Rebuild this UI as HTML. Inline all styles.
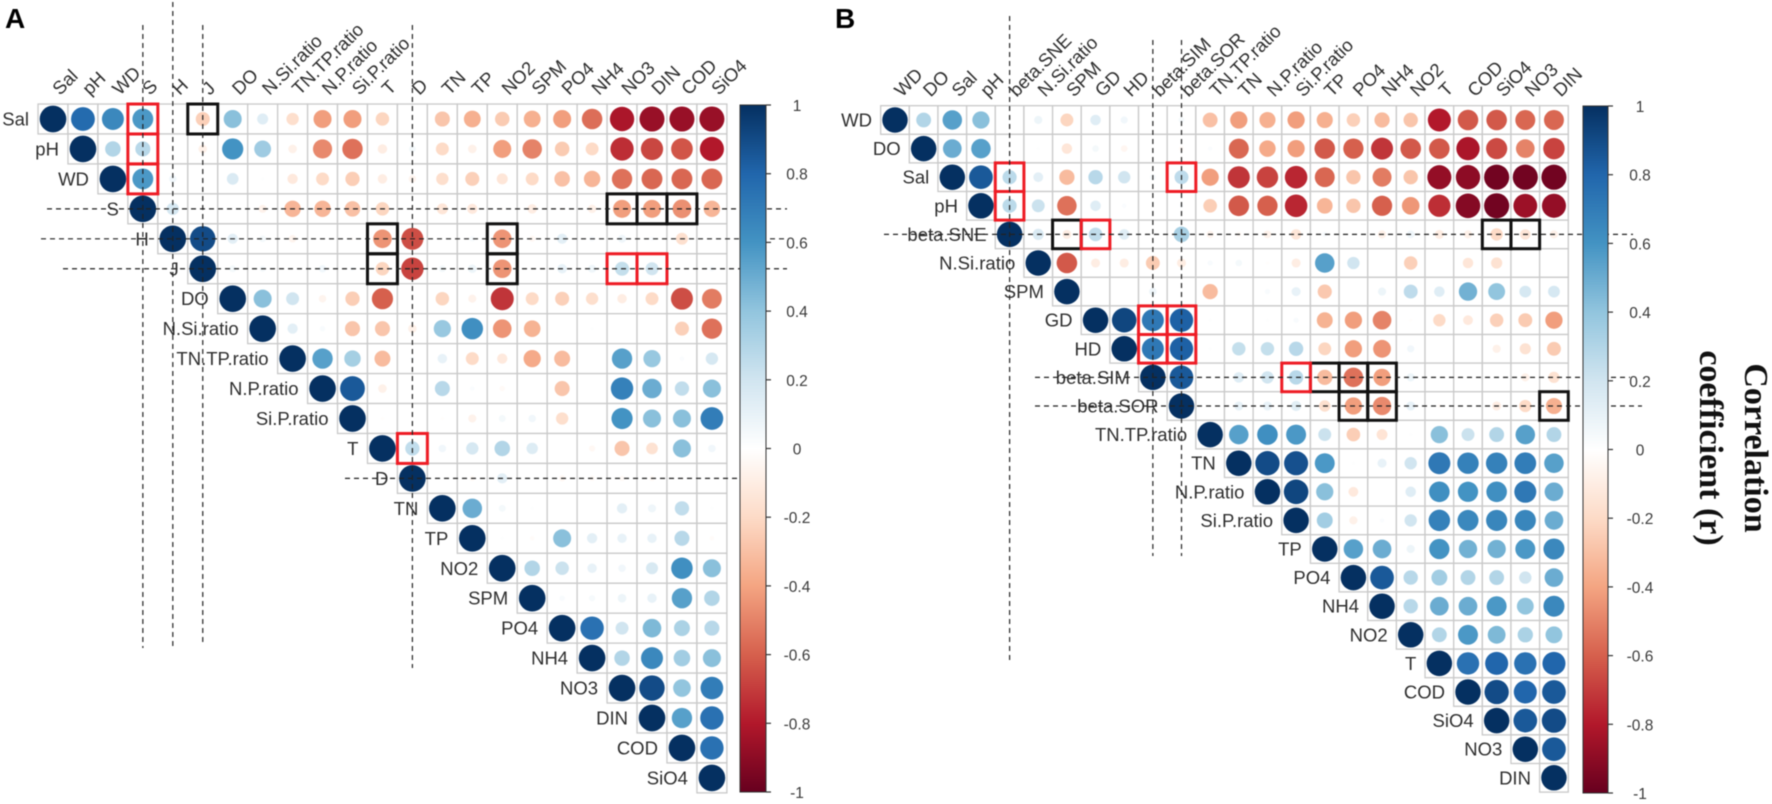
<!DOCTYPE html>
<html lang="en">
<head>
<meta charset="utf-8">
<title>Correlation matrices A and B</title>
<style>
html,body{margin:0;padding:0;background:#fff;}
#figure{display:block;width:1772px;height:804px;background:#fff;filter:blur(0.45px);}
text{font-family:"Liberation Sans",Arial,sans-serif;}
</style>
</head>
<body>
<svg id="figure" xmlns="http://www.w3.org/2000/svg" width="1772" height="804" viewBox="0 0 1772 804">
  <defs>
    <linearGradient id="rdbu-a" x1="0" y1="1" x2="0" y2="0"></linearGradient>
    <linearGradient id="rdbu-b" x1="0" y1="1" x2="0" y2="0"></linearGradient>
  </defs>
  <g id="panel-a"></g>
  <g id="panel-b"></g>
  <text x="5" y="28" font-size="28" font-weight="bold" fill="#000">A</text>
  <text x="835" y="28" font-size="28" font-weight="bold" fill="#000">B</text>
  <g font-weight="bold" fill="#111">
    <text transform="translate(1745,448) rotate(90)" text-anchor="middle" font-size="34" style="font-family:'Liberation Serif',serif">Correlation</text>
    <text transform="translate(1700,448) rotate(90)" text-anchor="middle" font-size="34" style="font-family:'Liberation Serif',serif">coefficient (r)</text>
  </g>
</svg>
<script>
const labelsA = ['Sal','pH','WD','S','H','J','DO','N.Si.ratio','TN.TP.ratio','N.P.ratio','Si.P.ratio','T','D','TN','TP','NO2','SPM','PO4','NH4','NO3','DIN','COD','SiO4'];
const valuesA = [
 [1,.78,.65,.58,0,-.24,.42,.14,-.18,-.42,-.42,-.22,0,-.28,-.36,-.26,-.36,-.42,-.56,-.82,-.87,-.87,-.87],
 [1,.3,.28,0,-.08,.6,.36,-.08,-.48,-.55,-.1,.05,-.2,-.08,-.42,-.5,-.26,-.2,-.74,-.67,-.63,-.8],
 [1,.58,.06,0,.16,.01,-.12,-.2,-.25,-.1,-.06,-.18,-.24,-.14,-.2,-.3,-.34,-.55,-.58,-.58,-.58],
 [1,.18,0,0,-.07,-.34,-.34,-.3,-.22,-.01,-.14,-.12,-.01,-.1,-.01,-.08,-.42,-.42,-.46,-.34],
 [1,.9,.12,.05,-.06,0,-.01,-.45,-.65,0,.03,-.45,-.04,.12,.03,.07,.02,-.17,0],
 [1,.05,.04,0,.06,.02,-.22,-.68,.05,.08,-.45,0,.1,.07,.24,.2,0,.03],
 [1,.42,.2,-.06,-.25,-.6,0,-.22,-.07,-.72,-.2,-.24,-.18,-.1,-.2,-.65,-.52],
 [1,.12,.03,-.28,-.28,-.08,.38,.62,-.45,-.35,0,.01,0,0,-.24,-.55],
 [1,.55,.34,-.32,.02,.1,-.2,-.12,-.38,-.32,0,.55,.38,.02,.18],
 [1,.85,-.08,0,.28,.02,-.03,0,-.28,0,.68,.5,.25,.42],
 [1,-.01,0,-.01,-.07,.05,.06,-.18,0,.6,.42,.42,.7],
 [1,.25,.06,.18,.3,.15,0,-.04,-.28,-.16,.42,.06],
 [1,0,-.03,.12,0,-.04,-.03,-.03,-.03,-.01,0],
 [1,.5,.05,.01,0,0,.12,.07,.25,.01],
 [1,.01,-.02,.42,.12,.1,.1,.28,-.02],
 [1,.3,.22,.1,.06,.17,.62,.42],
 [1,.03,.04,.08,.1,.55,.3],
 [1,.75,.2,.45,.32,.28],
 [1,.3,.65,.35,.42],
 [1,.9,.4,.7],
 [1,.55,.75],
 [1,.75],
 [1]
];
const redBoxesA = [['Sal','S'],['pH','S'],['WD','S'],['J','NO3'],['J','DIN'],['T','D']];
const blackBoxesA = [['Sal','J'],['S','NO3'],['S','DIN'],['S','COD'],['H','T'],['J','T'],['H','NO2'],['J','NO2']];
const guideVarsA = ['S','H','J','D'];

const labelsB = ['WD','DO','Sal','pH','beta.SNE','N.Si.ratio','SPM','GD','HD','beta.SIM','beta.SOR','TN.TP.ratio','TN','N.P.ratio','Si.P.ratio','TP','PO4','NH4','NO2','T','COD','SiO4','NO3','DIN'];
const valuesB = [
 [1,.3,.55,.42,.01,.08,-.22,.14,.06,.01,.04,-.3,-.42,-.36,-.42,-.36,-.24,-.32,-.28,-.8,-.62,-.62,-.58,-.58],
 [1,.5,.55,0,.01,-.14,.05,-.05,0,-.03,.02,-.58,-.38,-.42,-.62,-.6,-.72,-.62,-.62,-.82,-.66,-.5,-.68],
 [1,.85,.27,.12,-.32,.28,.2,.04,.26,-.42,-.72,-.68,-.76,-.58,-.28,-.52,-.28,-.88,-.9,-.97,-.97,-.97],
 [1,.27,.22,-.55,.14,.02,0,.02,-.25,-.62,-.6,-.76,-.34,-.28,-.6,-.44,-.74,-.92,-.97,-.86,-.88],
 [1,.16,-.1,.25,.14,0,.33,-.06,-.03,-.07,-.14,.03,0,-.08,.07,-.1,-.08,-.2,-.14,-.08],
 [1,-.62,-.1,-.1,-.26,-.1,.03,.05,-.01,-.1,.55,.2,0,-.24,0,-.14,-.16,0,0],
 [1,0,0,.07,0,-.32,0,.03,.1,-.27,0,.08,.26,.14,.48,.4,.18,.18],
 [1,.92,.72,.82,.01,0,.01,.03,-.35,-.42,-.5,-.01,-.2,-.12,-.24,-.26,-.42],
 [1,.72,.82,.01,.24,.24,.28,-.22,-.42,-.45,.06,0,0,-.08,-.16,-.26],
 [1,.85,0,.14,.2,.28,-.32,-.55,-.42,.08,0,0,0,-.08,-.16],
 [1,0,.1,.1,.13,-.17,-.42,-.48,.1,-.02,0,-.1,-.2,-.36],
 [1,.55,.62,.58,.22,-.25,-.15,.01,.42,.22,.3,.55,.3],
 [1,.9,.88,.58,.01,.1,.2,.72,.68,.68,.7,.55],
 [1,.92,.42,-.12,0,.14,.62,.6,.62,.72,.5],
 [1,.35,-.08,.02,.2,.68,.65,.66,.66,.5],
 [1,.55,.5,.08,.6,.48,.48,.58,.65],
 [1,.85,.28,.35,.3,.3,.2,.5],
 [1,.28,.5,.5,.58,.4,.65],
 [1,.3,.58,.45,.32,.4],
 [1,.75,.8,.75,.8],
 [1,.9,.8,.85],
 [1,.85,.9],
 [1,.85],
 [1]
];
const redBoxesB = [['Sal','beta.SNE'],['pH','beta.SNE'],['beta.SNE','GD'],['Sal','beta.SOR'],['GD','beta.SIM'],['GD','beta.SOR'],['HD','beta.SIM'],['HD','beta.SOR'],['beta.SIM','Si.P.ratio']];
const blackBoxesB = [['beta.SNE','SPM'],['beta.SNE','SiO4'],['beta.SNE','NO3'],['beta.SIM','TP'],['beta.SIM','PO4'],['beta.SIM','NH4'],['beta.SOR','PO4'],['beta.SOR','NH4'],['beta.SOR','DIN']];
const guideVarsB = ['beta.SNE','beta.SIM','beta.SOR'];

const legendTicks = [1,0.8,0.6,0.4,0.2,0,-0.2,-0.4,-0.6,-0.8,-1];
const paletteStops = [-1,-0.8,-0.6,-0.4,-0.2,0,0.2,0.4,0.6,0.8,1];
const paletteColors = ['#67001F','#B2182B','#D6604D','#F4A582','#FDDBC7','#FFFFFF','#D1E5F0','#92C5DE','#4393C3','#2166AC','#053061'];

const NS = 'http://www.w3.org/2000/svg';

function colorScale(v) {
  const c = Math.max(-1, Math.min(1, v));
  let i = 0;
  while (i < paletteStops.length - 2 && c > paletteStops[i + 1]) i++;
  const t = (c - paletteStops[i]) / (paletteStops[i + 1] - paletteStops[i]);
  const a = paletteColors[i], b = paletteColors[i + 1];
  const ch = function (s, k) { return parseInt(s.substr(1 + k * 2, 2), 16); };
  const mix = [0, 1, 2].map(function (k) { return Math.round(ch(a, k) + (ch(b, k) - ch(a, k)) * t); });
  return 'rgb(' + mix.join(',') + ')';
}

function make(parent, tag, attrs) {
  const el = document.createElementNS(NS, tag);
  for (const k in attrs) el.setAttribute(k, attrs[k]);
  parent.appendChild(el);
  return el;
}

function drawPanel(root, labels, values, redBoxes, blackBoxes, guides, geo) {
  const x = function (i) { return geo.x0 + i * geo.stepX; };
  const y = function (i) { return geo.y0 + i * geo.stepY; };
  const r = function (v) { return 0.445 * geo.stepX * Math.pow(Math.abs(v), 0.45); };
  const idx = function (n) { return labels.indexOf(n); };

  const gridLayer = make(root, 'g', {});
  
  
  const dotLayer = make(root, 'g', {});
  
  

  values.forEach(function (row, ri) {
    row.forEach(function (v, k) {
      const ci = ri + k;
      const cell = make(gridLayer, 'rect', {
        x: x(ci) - geo.stepX / 2, y: y(ri) - geo.stepY / 2,
        width: geo.stepX, height: geo.stepY,
        fill: '#fff', stroke: '#c9c9c9', 'stroke-width': 1.3
      });
      
      
      const dot = make(dotLayer, 'circle', {
        cx: x(ci), cy: y(ri), r: r(v), fill: colorScale(v)
      });
      
      
    });
  });

  const drawBoxes = function (list, color, name) {
    list.forEach(function (pair) {
      const box = make(root, 'rect', {
        x: x(idx(pair[1])) - geo.stepX / 2, y: y(idx(pair[0])) - geo.stepY / 2,
        width: geo.stepX, height: geo.stepY,
        fill: 'none', stroke: color, 'stroke-width': 3
      });
      
      
    });
  };
  drawBoxes(blackBoxes, '#111', 'black-highlight');
  drawBoxes(redBoxes, '#ee1c25', 'red-highlight');

  labels.forEach(function (name, i) {
    const rowLabel = make(root, 'text', {
      x: x(i) - geo.labelGap, y: y(i) + 6.5,
      'text-anchor': 'end', 'font-size': 18.5, fill: '#2e2e2e'
    });
    rowLabel.textContent = name;
    
    
    const px = x(i) + 7, py = geo.y0 - geo.stepY / 2 - 8;
    const colLabel = make(root, 'text', {
      x: px, y: py, transform: 'rotate(-45 ' + px + ' ' + py + ')',
      'font-size': 18.5, fill: '#2e2e2e'
    });
    colLabel.textContent = name;
    
    
  });

  guides.forEach(function (name, g) {
    const i = idx(name);
    const ext = geo.guideExtents[g];
    const v = make(root, 'line', {
      x1: x(i), x2: x(i), y1: ext[0], y2: ext[1],
      stroke: '#222', 'stroke-width': 1.2, 'stroke-dasharray': '5 4'
    });
    
    
    const h = make(root, 'line', {
      x1: ext[2], x2: ext[3], y1: y(i), y2: y(i),
      stroke: '#222', 'stroke-width': 1.2, 'stroke-dasharray': '5 4'
    });
    
    
  });

  /* colour bar */
  const grad = document.getElementById(geo.gradientId);
  paletteStops.forEach(function (s, i) {
    const st = document.createElementNS(NS, 'stop');
    st.setAttribute('offset', ((s + 1) / 2 * 100) + '%');
    st.setAttribute('stop-color', paletteColors[i]);
    grad.appendChild(st);
  });
  const bar = make(root, 'g', {});
  
  
  const barY = function (v) { return geo.barTop + (1 - v) / 2 * (geo.barBottom - geo.barTop); };
  make(bar, 'rect', {
    x: geo.barLeft, y: geo.barTop, width: geo.barRight - geo.barLeft,
    height: geo.barBottom - geo.barTop, fill: 'url(#' + geo.gradientId + ')',
    stroke: '#333', 'stroke-width': 1
  });
  legendTicks.forEach(function (t) {
    const tick = make(bar, 'line', {
      x1: geo.barRight, x2: geo.barRight + 5, y1: barY(t), y2: barY(t),
      stroke: '#333', 'stroke-width': 1.2
    });
    
    
    const lab = make(bar, 'text', {
      x: geo.barLabelX, y: barY(t) + 6,
      'text-anchor': 'middle', 'font-size': 15.5, fill: '#3a3a3a'
    });
    lab.textContent = String(t);
    
    
  });
}

const geometryA = {
  x0: 53, y0: 119, stepX: 29.95, stepY: 29.95, labelGap: 24,
  gradientId: 'rdbu-a', barLeft: 740, barRight: 766, barTop: 105, barBottom: 792, barLabelX: 797,
  guideExtents: [[25, 648, 47, 787], [2, 650, 41, 787], [25, 646, 63, 787], [25, 668, 345, 745]]
};
const geometryB = {
  x0: 895, y0: 120, stepX: 28.65, stepY: 28.6, labelGap: 23,
  gradientId: 'rdbu-b', barLeft: 1583, barRight: 1608, barTop: 106, barBottom: 793, barLabelX: 1640,
  guideExtents: [[16, 661, 884, 1633], [40, 556, 1035, 1630], [40, 556, 1035, 1642]]
};

drawPanel(document.getElementById('panel-a'), labelsA, valuesA, redBoxesA, blackBoxesA, guideVarsA, geometryA);
drawPanel(document.getElementById('panel-b'), labelsB, valuesB, redBoxesB, blackBoxesB, guideVarsB, geometryB);
</script>
</body>
</html>
